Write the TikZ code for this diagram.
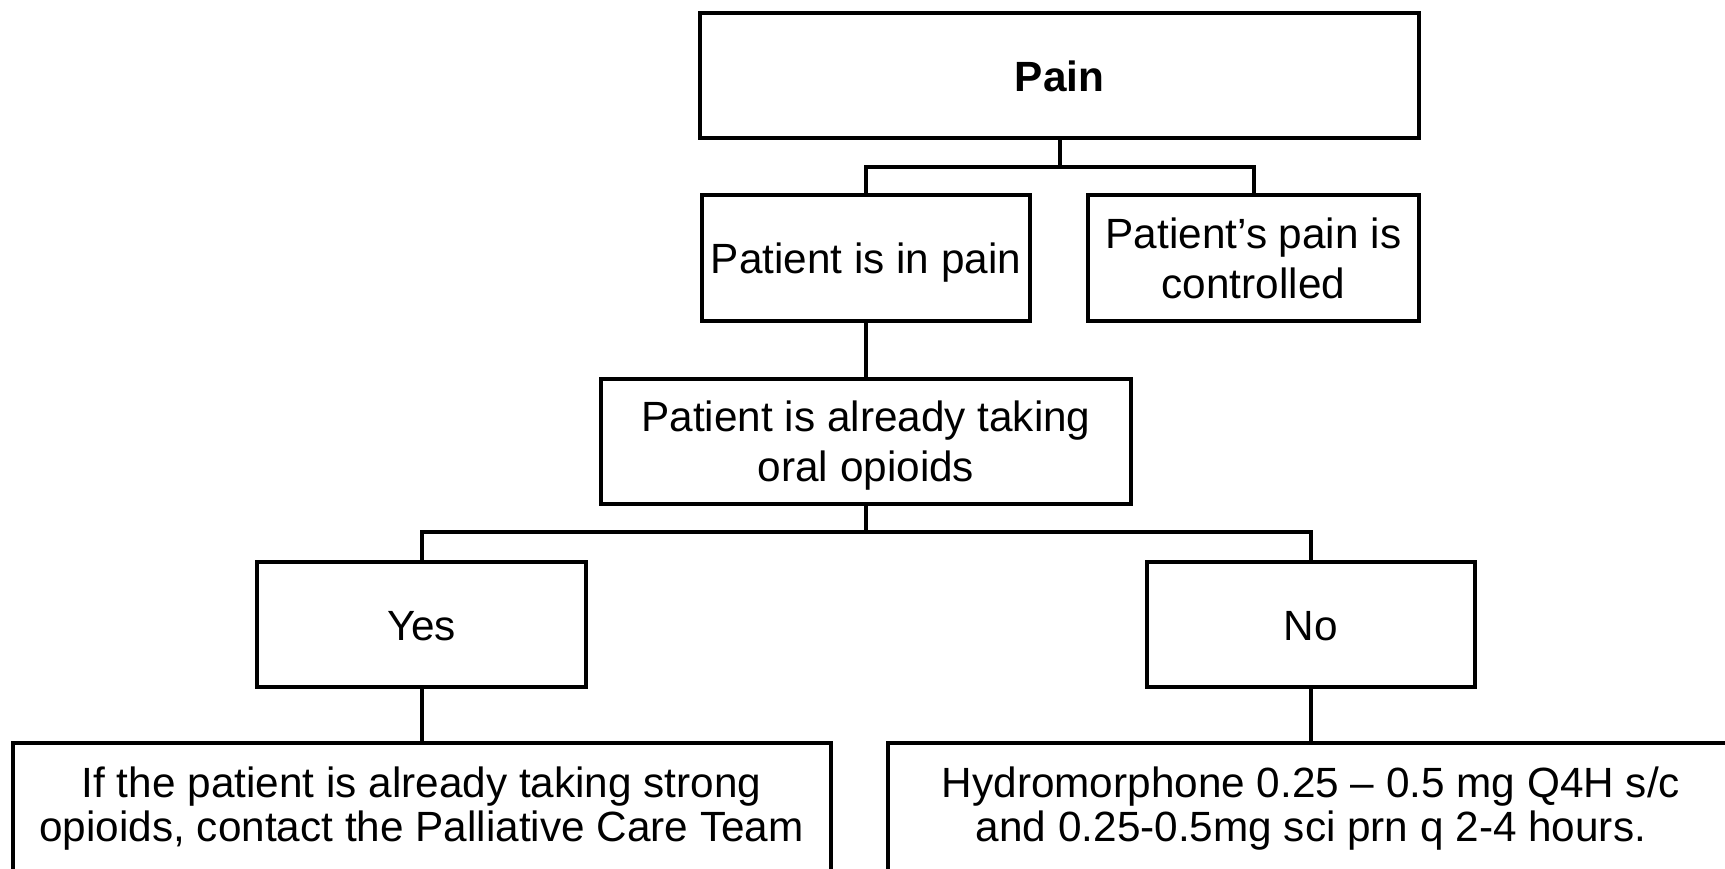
\documentclass[tikz,border=0pt]{standalone}
\usepackage{fontspec}
\setmainfont{Liberation Sans}
\newcommand\lst{\rule[-8.5pt]{0pt}{48pt}}
\begin{document}
\begin{tikzpicture}[x=1pt,y=-1pt,
  box/.style={draw=black, line width=4pt, fill=white, inner sep=0pt, align=center,
    font=\fontsize{42.3}{48}\selectfont},
  lowbox/.style={box, font=\fontsize{42.3}{44}\selectfont},
  conn/.style={draw=black, line width=4pt}]
\useasboundingbox (0,0) rectangle (1725,868);
\clip (0,0) rectangle (1725,868);
\fill[white] (0,0) rectangle (1725,868);
\node[box, minimum width=719pt, minimum height=125pt] (pain) at (1059.5,75.5) {\lst\textbf{Pain}};
\node[box, minimum width=328pt, minimum height=126pt] (inpain) at (866,258) {\lst Patient is in pain};
\node[box, minimum width=331pt, minimum height=126pt] (controlled) at (1253.5,258) {\lst Patient’s pain is\\\lst controlled};
\node[box, minimum width=530pt, minimum height=125pt] (oral) at (866,441) {\lst Patient is already taking\\\lst oral opioids};
\node[box, minimum width=329pt, minimum height=125pt] (yes) at (421.5,624.5) {\lst Yes};
\node[box, minimum width=328pt, minimum height=125pt] (no) at (1311,624.5) {\lst No};
\node[lowbox, minimum width=818pt, minimum height=147pt] (strong) at (421.5,816.5) {\rule{0pt}{39.5pt}If the patient is already taking strong\\opioids, contact the Palliative Care Team\rule[-34.2pt]{0pt}{34.2pt}};
\node[lowbox, minimum width=846pt, minimum height=147pt] (hydro) at (1311,816.5) {\rule{0pt}{39.5pt}Hydromorphone 0.25 – 0.5 mg Q4H s/c\\and 0.25-0.5mg sci prn q 2-4 hours.\rule[-34.2pt]{0pt}{34.2pt}};
\coordinate (j1) at (1059.5,167);
\coordinate (j2) at (866,532);
\draw[conn] (pain.south) -- (j1);
\draw[conn] (inpain.north) |- (j1) -| (controlled.north);
\draw[conn] (inpain.south) -- (oral.north);
\draw[conn] (oral.south) -- (j2);
\draw[conn] (yes.north) |- (j2) -| (no.north);
\draw[conn] (yes.south) -- (strong.north);
\draw[conn] (no.south) -- (hydro.north);
\end{tikzpicture}
\end{document}
